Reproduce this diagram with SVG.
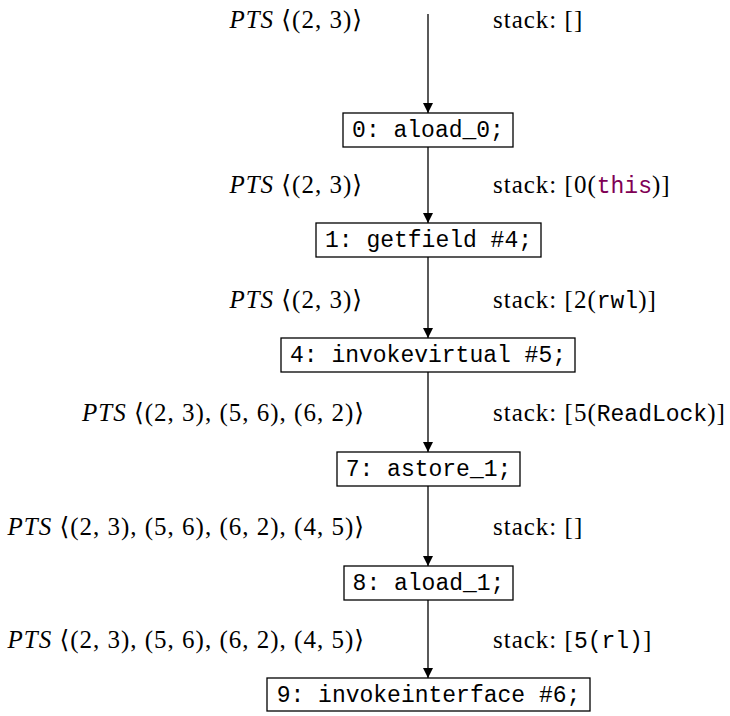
<svg xmlns="http://www.w3.org/2000/svg" width="730" height="716" viewBox="0 0 730 716">
  <style>
    .box { fill: #ffffff; stroke: #000000; stroke-width: 1.3; }
    .code { font-family: "Liberation Mono", "DejaVu Sans Mono", monospace; font-size: 23px; fill: #000000; }
    .lbl { font-family: "Liberation Serif", "DejaVu Serif", serif; font-size: 25px; letter-spacing: 1px; fill: #000000; }
    .it { font-style: italic; }
    .tt { font-family: "Liberation Mono", "DejaVu Sans Mono", monospace; font-size: 23px; letter-spacing: 0px; }
    .kw { fill: #7f0055; }
    .edge { stroke: #000000; stroke-width: 1.3; fill: none; marker-end: url(#arrow); }
  </style>
  <defs>
    <marker id="arrow" markerWidth="10" markerHeight="14" refX="10" refY="7" orient="auto" markerUnits="userSpaceOnUse">
      <path d="M0,2 L10,7 L0,12 Z" fill="#000000"/>
    </marker>
  </defs>

  <!-- control-flow edges -->
  <g id="edges">
    <line class="edge" x1="428" y1="14" x2="428" y2="113"/>
    <line class="edge" x1="428" y1="147" x2="428" y2="223"/>
    <line class="edge" x1="428" y1="257" x2="428" y2="338"/>
    <line class="edge" x1="428" y1="372" x2="428" y2="452"/>
    <line class="edge" x1="428" y1="486" x2="428" y2="566"/>
    <line class="edge" x1="428" y1="600" x2="428" y2="678"/>
  </g>

  <!-- points-to sets and operand stacks on each edge -->
  <g id="edge-labels">
    <text class="lbl" x="363" y="28" text-anchor="end"><tspan class="it">PTS</tspan> ⟨(2, 3)⟩</text>
    <text class="lbl" x="493" y="28">stack: []</text>

    <text class="lbl" x="363" y="193" text-anchor="end"><tspan class="it">PTS</tspan> ⟨(2, 3)⟩</text>
    <text class="lbl" x="493" y="193">stack: [0(<tspan class="tt kw">this</tspan>)]</text>

    <text class="lbl" x="363" y="308" text-anchor="end"><tspan class="it">PTS</tspan> ⟨(2, 3)⟩</text>
    <text class="lbl" x="493" y="308">stack: [2(<tspan class="tt">rwl</tspan>)]</text>

    <text class="lbl" x="365" y="421" text-anchor="end"><tspan class="it">PTS</tspan> ⟨(2, 3), (5, 6), (6, 2)⟩</text>
    <text class="lbl" x="493" y="421">stack: [5(<tspan class="tt">ReadLock</tspan>)]</text>

    <text class="lbl" x="365" y="535" text-anchor="end"><tspan class="it">PTS</tspan> ⟨(2, 3), (5, 6), (6, 2), (4, 5)⟩</text>
    <text class="lbl" x="493" y="535">stack: []</text>

    <text class="lbl" x="365" y="648" text-anchor="end"><tspan class="it">PTS</tspan> ⟨(2, 3), (5, 6), (6, 2), (4, 5)⟩</text>
    <text class="lbl" x="493" y="648">stack: [<tspan class="tt">5(rl)</tspan>]</text>
  </g>

  <!-- bytecode instructions -->
  <g id="n0">
    <rect class="box" x="343" y="113" width="170" height="34"/>
    <text class="code" x="428" y="137" text-anchor="middle">0: aload_0;</text>
  </g>
  <g id="n1">
    <rect class="box" x="316" y="223" width="225" height="34"/>
    <text class="code" x="428.5" y="247" text-anchor="middle">1: getfield #4;</text>
  </g>
  <g id="n4">
    <rect class="box" x="281" y="338" width="294" height="34"/>
    <text class="code" x="428" y="362" text-anchor="middle">4: invokevirtual #5;</text>
  </g>
  <g id="n7">
    <rect class="box" x="337" y="452" width="183" height="34"/>
    <text class="code" x="428.5" y="476" text-anchor="middle">7: astore_1;</text>
  </g>
  <g id="n8">
    <rect class="box" x="344" y="566" width="169" height="34"/>
    <text class="code" x="428.5" y="590" text-anchor="middle">8: aload_1;</text>
  </g>
  <g id="n9">
    <rect class="box" x="267" y="678" width="323" height="33"/>
    <text class="code" x="428.5" y="702" text-anchor="middle">9: invokeinterface #6;</text>
  </g>
</svg>
